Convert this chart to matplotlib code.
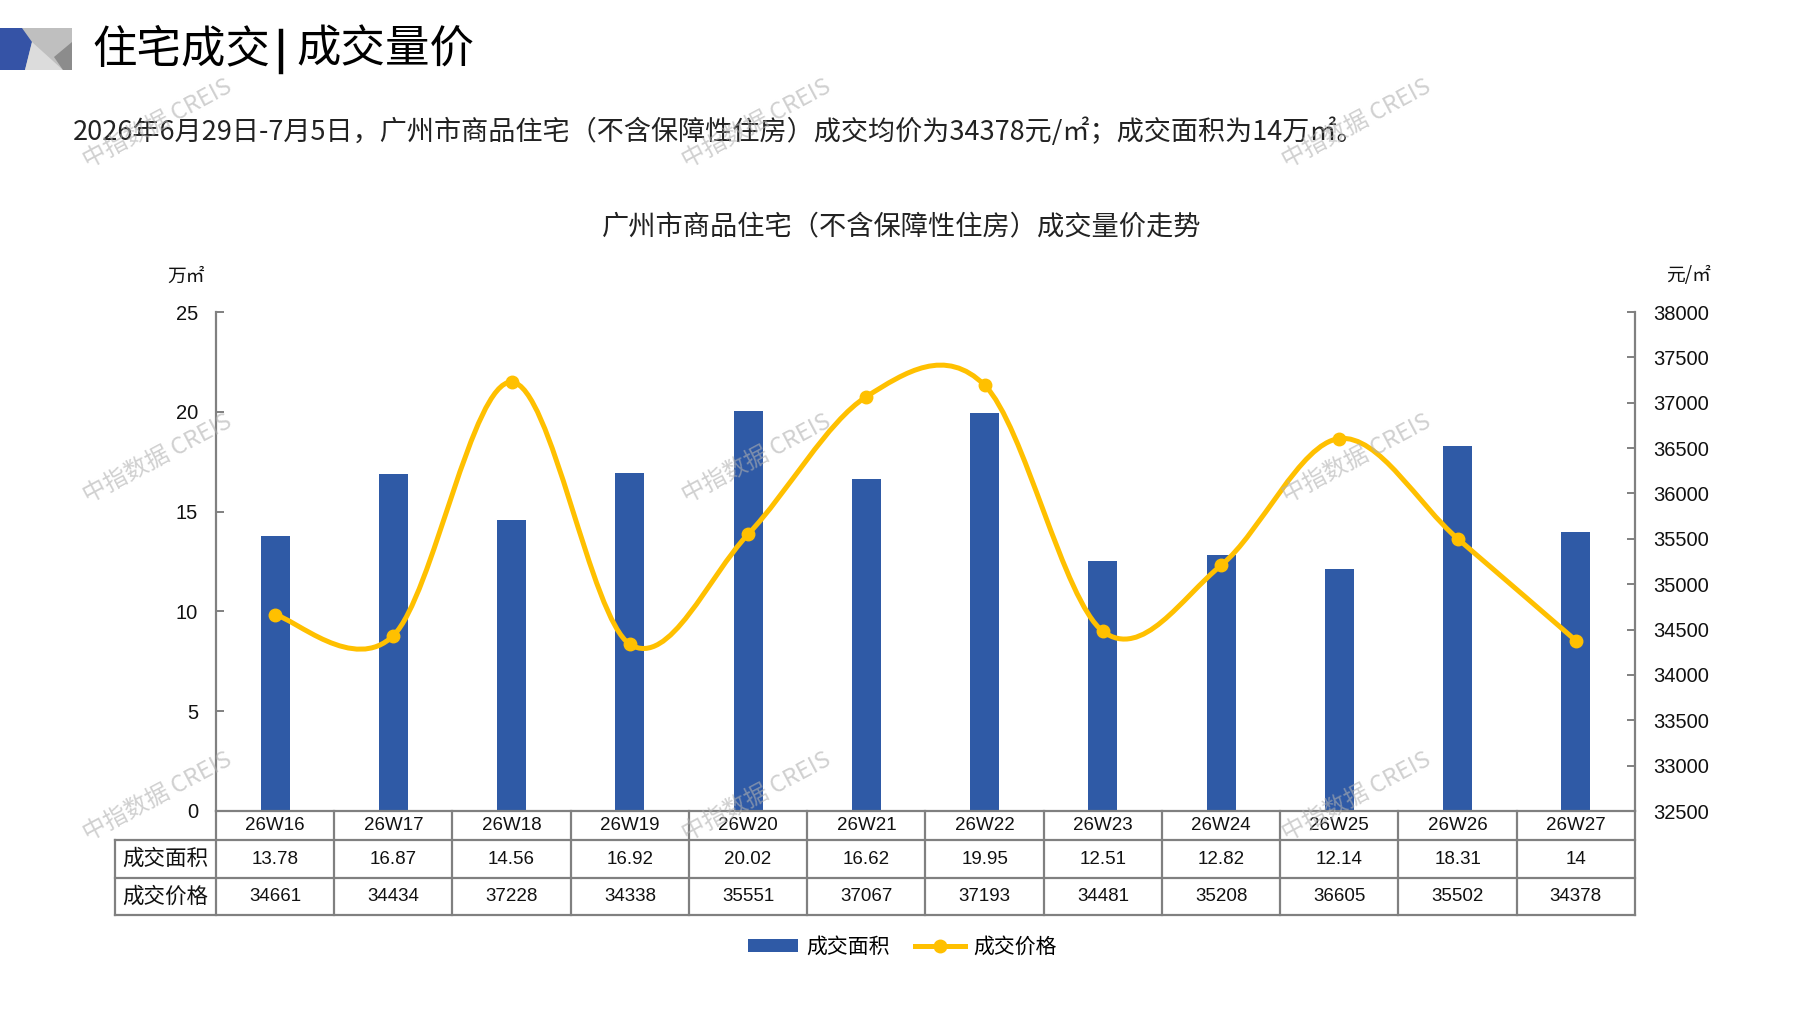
import matplotlib
matplotlib.use('Agg')
import matplotlib.pyplot as plt
import matplotlib.transforms as mtransforms
from matplotlib import font_manager
from matplotlib.path import Path
from matplotlib.patches import PathPatch, Polygon, Patch
from matplotlib.lines import Line2D

# ---------------- data ----------------
weeks = ['26W16', '26W17', '26W18', '26W19', '26W20', '26W21',
         '26W22', '26W23', '26W24', '26W25', '26W26', '26W27']
area = [13.78, 16.87, 14.56, 16.92, 20.02, 16.62, 19.95, 12.51, 12.82, 12.14, 18.31, 14]
area_text = ['13.78', '16.87', '14.56', '16.92', '20.02', '16.62',
             '19.95', '12.51', '12.82', '12.14', '18.31', '14']
price = [34661, 34434, 37228, 34338, 35551, 37067, 37193, 34481, 35208, 36605, 35502, 34378]
area_ticks = [0, 5, 10, 15, 20, 25]
price_ticks = [32500, 33000, 33500, 34000, 34500, 35000, 35500,
               36000, 36500, 37000, 37500, 38000]
row_labels = ['成交面积', '成交价格']
series_names = ['成交面积', '成交价格']

title_left = '住宅成交'
title_right = '成交量价'
subtitle = '2026年6月29日-7月5日，广州市商品住宅（不含保障性住房）成交均价为34378元/㎡；成交面积为14万㎡。'
chart_title = '广州市商品住宅（不含保障性住房）成交量价走势'
unit_left = '万㎡'
unit_right = '元/㎡'
watermark = '中指数据 CREIS'

# ---------------- style ----------------
CJK = ['Noto Sans CJK SC', 'DejaVu Sans']
LAT = ['Liberation Sans', 'DejaVu Sans']
plt.rcParams['font.family'] = CJK
names = {f.name for f in font_manager.fontManager.ttflist}
if 'Liberation Sans Narrow' in names:
    TAB = ['Liberation Sans Narrow', 'DejaVu Sans']
    TAB_SIZE = 15.5
else:
    TAB = LAT
    TAB_SIZE = 13.5
BLUE = '#2F5AA6'
GOLD = '#FFC000'
GREY = '#808080'
TXT = '#111111'

W, H = 1797, 1010
fig = plt.figure(figsize=(W / 100, H / 100), dpi=100)
fig.patch.set_facecolor('white')


def fx(x):
    return x / W


def fy(y):
    return 1 - y / H


# ---------------- header ----------------
def poly(pts, color):
    fig.add_artist(Polygon([(fx(a), fy(b)) for a, b in pts], closed=True,
                           transform=fig.transFigure, facecolor=color,
                           edgecolor='none'))


poly([(22, 28), (72, 28), (72, 70), (22, 70)], '#bfbfbf')
poly([(0, 28), (22, 28), (32, 42), (25, 70), (0, 70)], '#3553A6')
poly([(32, 42), (63, 70), (25, 70)], '#dcdcdc')
poly([(72, 42), (72, 70), (63, 70), (54, 57)], '#8c8c8c')

fig.text(fx(92), fy(50), title_left, fontsize=32, color='black',
         ha='left', va='center')
fig.add_artist(Line2D([fx(281), fx(281)], [fy(31), fy(72)], color='black',
                      lw=3.2, transform=fig.transFigure))
fig.text(fx(296), fy(50), title_right, fontsize=32, color='black',
         ha='left', va='center')

fig.text(fx(73), fy(132), subtitle, fontsize=19.5, color='#222222',
         ha='left', va='center')
fig.text(fx(902), fy(227), chart_title, fontsize=19.6, color='#222222',
         ha='center', va='center')

# ---------------- main axes ----------------
L, R, T, B = 216, 1635, 312, 811
ax = fig.add_axes([fx(L), fy(B), (R - L) / W, (B - T) / H])
x = list(range(len(weeks)))
ax.bar(x, area, width=0.245, color=BLUE, zorder=2)
ax.set_xlim(-0.5, len(weeks) - 0.5)
ax.set_ylim(area_ticks[0], area_ticks[-1])
ax.set_yticks(area_ticks)
ax.set_yticklabels([str(v) for v in area_ticks], family=LAT, fontsize=14.5, color=TXT)
ax.set_xticks([])
for s in ['top', 'right', 'bottom']:
    ax.spines[s].set_visible(False)
ax.spines['left'].set_color(GREY)
ax.spines['left'].set_linewidth(1.6)
ax.tick_params(axis='y', direction='in', length=6, width=1.4, color=GREY, pad=13)

ax2 = ax.twinx()
ax2.set_ylim(price_ticks[0], price_ticks[-1])
ax2.set_yticks(price_ticks)
ax2.set_yticklabels([str(v) for v in price_ticks], family=LAT, fontsize=14.5, color=TXT)
for s in ['top', 'left', 'bottom']:
    ax2.spines[s].set_visible(False)
ax2.spines['right'].set_color(GREY)
ax2.spines['right'].set_linewidth(1.6)
ax2.tick_params(axis='y', direction='in', length=6, width=1.4, color=GREY, pad=13)
ax2.set_xticks([])

# smoothed line (Catmull-Rom style Bezier through the data points)
pts = list(zip(x, price))
verts = [pts[0]]
codes = [Path.MOVETO]
n = len(pts)
for i in range(n - 1):
    p0 = pts[i - 1] if i > 0 else pts[i]
    p1 = pts[i]
    p2 = pts[i + 1]
    p3 = pts[i + 2] if i + 2 < n else pts[i + 1]
    c1 = (p1[0] + (p2[0] - p0[0]) / 6, p1[1] + (p2[1] - p0[1]) / 6)
    c2 = (p2[0] - (p3[0] - p1[0]) / 6, p2[1] - (p3[1] - p1[1]) / 6)
    verts += [c1, c2, p2]
    codes += [Path.CURVE4] * 3
ax2.add_patch(PathPatch(Path(verts, codes), facecolor='none', edgecolor=GOLD,
                        lw=3.6, zorder=3, capstyle='round', joinstyle='round'))
ax2.plot(x, price, linestyle='none', marker='o', ms=9, color=GOLD, zorder=4)
ax2.set_xlim(-0.5, len(weeks) - 0.5)

# units
fig.text(fx(186), fy(276), unit_left, fontsize=13.5, color=TXT, ha='center', va='center')
fig.text(fx(1689), fy(276), unit_right, fontsize=13.5, color=TXT, ha='center', va='center')

# ---------------- data table ----------------
trans = mtransforms.blended_transform_factory(ax.transData, ax.transAxes)
ah = B - T
rows = [0, -29 / ah, -67 / ah, -104 / ah]
col_w = (R - L) / len(weeks)
xl = -0.5 - 101 / col_w
xr = len(weeks) - 0.5
lk = dict(color=GREY, lw=1.6, transform=trans, clip_on=False)
ax.add_artist(Line2D([-0.5, xr], [rows[0], rows[0]], **lk))
for r in rows[1:]:
    ax.add_artist(Line2D([xl, xr], [r, r], **lk))
for k in range(len(weeks) + 1):
    ax.add_artist(Line2D([-0.5 + k, -0.5 + k], [rows[0], rows[3]], **lk))
ax.add_artist(Line2D([xl, xl], [rows[1], rows[3]], **lk))

for i, w in enumerate(weeks):
    ax.text(i, (rows[0] + rows[1]) / 2, w, transform=trans, ha='center', va='center',
            family=TAB, fontsize=TAB_SIZE, color=TXT, clip_on=False)
    ax.text(i, (rows[1] + rows[2]) / 2, area_text[i], transform=trans, ha='center',
            va='center', family=TAB, fontsize=TAB_SIZE, color=TXT, clip_on=False)
    ax.text(i, (rows[2] + rows[3]) / 2, str(price[i]), transform=trans, ha='center',
            va='center', family=TAB, fontsize=TAB_SIZE, color=TXT, clip_on=False)
for j, lab in enumerate(row_labels):
    ax.text((xl - 0.5) / 2, (rows[j + 1] + rows[j + 2]) / 2, lab, transform=trans,
            ha='center', va='center', fontsize=15.5, color=TXT, clip_on=False)

# ---------------- legend ----------------
handles = [Patch(facecolor=BLUE, edgecolor='none'),
           Line2D([], [], color=GOLD, lw=3.6, marker='o', ms=9)]
fig.legend(handles, series_names, loc='center', bbox_to_anchor=(fx(902), fy(947)),
           ncol=2, frameon=False, prop={'family': CJK, 'size': 15},
           handlelength=2.4, handleheight=0.55, handletextpad=0.4,
           columnspacing=1.2, numpoints=1)

# ---------------- watermarks ----------------
for wy in [124, 459, 797]:
    for wx in [158, 757, 1357]:
        fig.text(fx(wx), fy(wy), watermark, fontsize=17, color='#b0b0b0', alpha=0.6,
                 rotation=28, ha='center', va='center', rotation_mode='anchor',
                 zorder=100)

fig.savefig('out.png', dpi=100, facecolor='white')
